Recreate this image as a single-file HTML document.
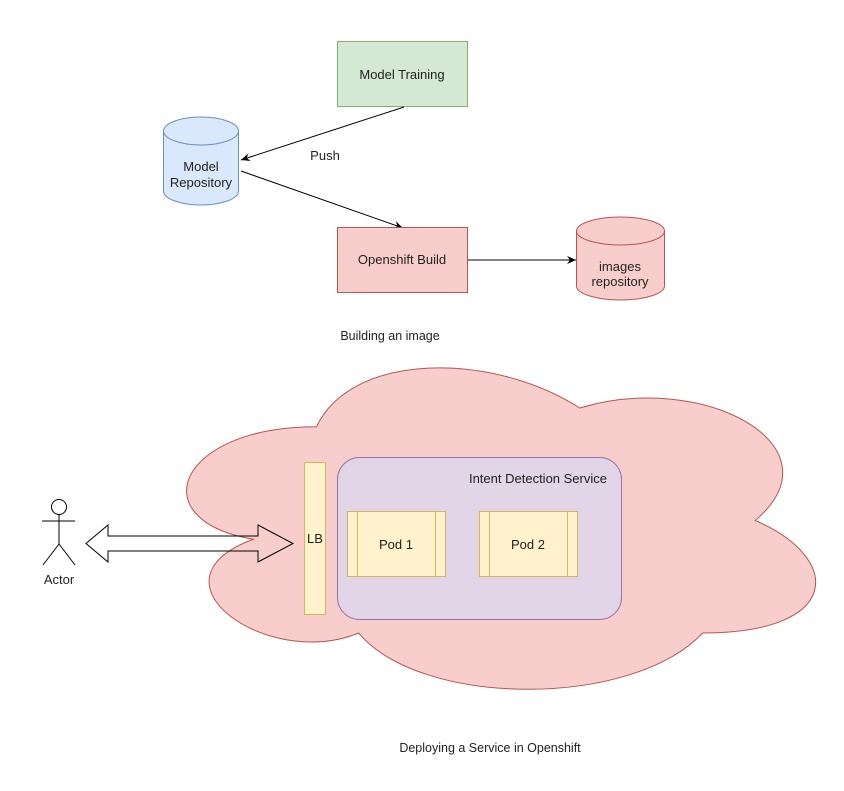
<!DOCTYPE html>
<html><head><meta charset="utf-8"><style>
html,body{margin:0;padding:0;background:#fff;}
svg{display:block;font-family:"Liberation Sans",sans-serif;}
</style></head><body>
<svg width="844" height="791" viewBox="0 0 844 791" xmlns="http://www.w3.org/2000/svg">
<defs>
<marker id="ah" markerWidth="10" markerHeight="10" refX="9" refY="5" orient="auto" markerUnits="userSpaceOnUse">
<path d="M0,1 L9,5 L0,9 L3,5 Z" fill="#000"/>
</marker>
</defs>
<!-- Top diagram -->
<rect x="337.5" y="41.5" width="130" height="65" fill="#d5e8d4" stroke="#82b366"/>
<text x="402" y="79" font-size="13" text-anchor="middle" fill="#222">Model Training</text>

<path d="M163.5,131 v60 a37.5,14 0 0 0 75,0 v-60" fill="#dae8fc" stroke="#6c8ebf"/>
<ellipse cx="201" cy="131" rx="37.5" ry="14" fill="#dae8fc" stroke="#6c8ebf"/>
<text x="201" y="171" font-size="13" text-anchor="middle" fill="#222">Model</text>
<text x="201" y="187" font-size="13" text-anchor="middle" fill="#222">Repository</text>

<line x1="404" y1="107" x2="241" y2="160" stroke="#000" stroke-width="1" marker-end="url(#ah)"/>
<text x="325" y="160" font-size="13" text-anchor="middle" fill="#222">Push</text>
<line x1="241" y1="171" x2="403" y2="228" stroke="#000" stroke-width="1" marker-end="url(#ah)"/>

<rect x="337.5" y="227.5" width="130" height="65" fill="#f8cecc" stroke="#b85450"/>
<text x="402" y="264" font-size="13" text-anchor="middle" fill="#222">Openshift Build</text>

<line x1="468" y1="260" x2="576" y2="260" stroke="#000" stroke-width="1" marker-end="url(#ah)"/>

<path d="M576.5,231 v55 a44,14 0 0 0 88,0 v-55" fill="#f8cecc" stroke="#b85450"/>
<ellipse cx="620.5" cy="231" rx="44" ry="14" fill="#f8cecc" stroke="#b85450"/>
<text x="620" y="271" font-size="13" text-anchor="middle" fill="#222">images</text>
<text x="620" y="286" font-size="13" text-anchor="middle" fill="#222">repository</text>

<text x="390" y="340" font-size="12.5" text-anchor="middle" fill="#222">Building an image</text>

<!-- Cloud -->
<g transform="translate(141,333) scale(702,375)">
<path d="M0.25,0.25 C0.05,0.25 0,0.5 0.16,0.55 C0,0.66 0.18,0.9 0.31,0.8 C0.4,1 0.7,1 0.8,0.8 C1,0.8 1,0.6 0.875,0.5 C1,0.3 0.8,0.1 0.625,0.2 C0.5,0.05 0.3,0.05 0.25,0.25 Z" fill="#f8cecc" stroke="#b85450" stroke-width="1" vector-effect="non-scaling-stroke"/>
</g>

<!-- Service -->
<rect x="337.5" y="457.5" width="284" height="162" rx="22" fill="#e1d5e7" stroke="#9673a6"/>
<text x="607" y="483" font-size="13" text-anchor="end" fill="#222">Intent Detection Service</text>

<rect x="347.5" y="511.5" width="98" height="65" fill="#fff2cc" stroke="#d6b656"/>
<line x1="357.5" y1="511.5" x2="357.5" y2="576.5" stroke="#d6b656"/>
<line x1="435.5" y1="511.5" x2="435.5" y2="576.5" stroke="#d6b656"/>
<text x="396" y="549" font-size="13" text-anchor="middle" fill="#222">Pod 1</text>

<rect x="479.5" y="511.5" width="98" height="65" fill="#fff2cc" stroke="#d6b656"/>
<line x1="489.5" y1="511.5" x2="489.5" y2="576.5" stroke="#d6b656"/>
<line x1="567.5" y1="511.5" x2="567.5" y2="576.5" stroke="#d6b656"/>
<text x="528" y="549" font-size="13" text-anchor="middle" fill="#222">Pod 2</text>

<rect x="304.5" y="462.5" width="21" height="152" fill="#fff2cc" stroke="#d6b656"/>
<text x="315" y="543" font-size="13" text-anchor="middle" fill="#222">LB</text>

<!-- Double arrow -->
<path d="M86,543.5 L108,525 L108,536 L258,536 L258,525 L293,543.5 L258,562 L258,551 L108,551 L108,562 Z" fill="none" stroke="#000" stroke-width="1"/>

<!-- Actor -->
<g stroke="#000" stroke-width="1" fill="none">
<circle cx="59" cy="507" r="7.5" fill="#fff"/>
<line x1="59" y1="514.5" x2="59" y2="544"/>
<line x1="42" y1="521" x2="75" y2="521"/>
<line x1="59" y1="544" x2="43" y2="565"/>
<line x1="59" y1="544" x2="75" y2="565"/>
</g>
<text x="59" y="584" font-size="13" text-anchor="middle" fill="#222">Actor</text>

<text x="490" y="752" font-size="12.5" text-anchor="middle" fill="#222">Deploying a Service in Openshift</text>
</svg>
</body></html>
